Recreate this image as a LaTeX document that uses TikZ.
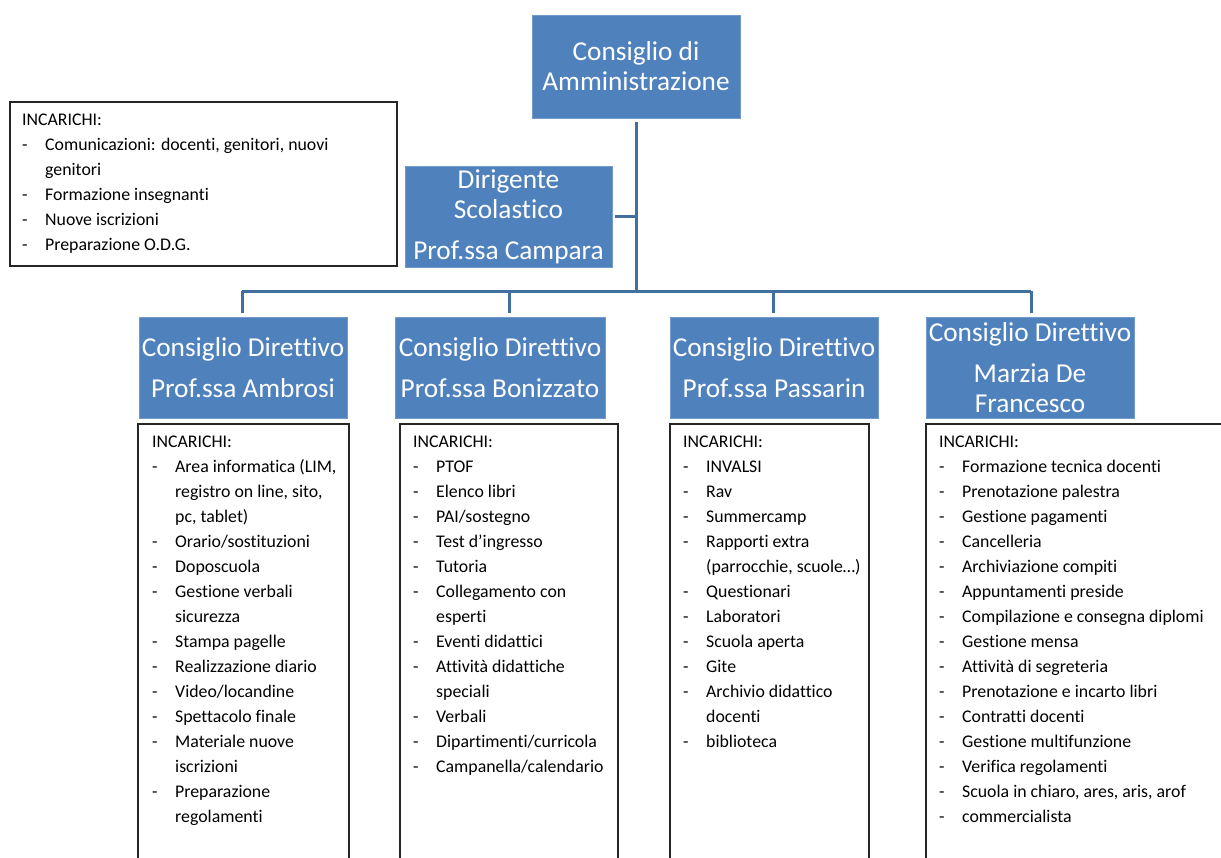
\documentclass[tikz,border=0pt]{standalone}
\usepackage{fontspec}
\setmainfont{Carlito}[Ligatures={NoCommon}]
\definecolor{boxblue}{HTML}{4F81BD}
\definecolor{lineblue}{HTML}{41709F}
\newcommand{\lid}[1]{\makebox[23pt][l]{-}#1\\}
\newcommand{\lic}[1]{\hspace*{23pt}#1\\}
\newcommand{\lilast}[1]{\makebox[23pt][l]{-}#1}
\tikzset{
  bluebox/.style={fill=boxblue, draw=boxblue!80!white, line width=0.6pt, text=white, align=center,
    font=\fontsize{27.3}{30}\selectfont, inner sep=0pt},
  conn/.style={draw=lineblue, line width=3pt},
  listtext/.style={anchor=base west, inner sep=0pt},
  listbox/.style={draw=black!85, line width=1.1pt}
}
\newcommand{\listfont}{\fontsize{17.8}{25.05}\selectfont}
\begin{document}
\begin{tikzpicture}[x=1pt,y=-1pt]
\useasboundingbox (0,0) rectangle (1221,857);
% blue boxes
\node[bluebox, minimum width=208pt, minimum height=103pt] (cda) at (636,66.5) {Consiglio di\\Amministrazione};
\node[bluebox, minimum width=207pt, minimum height=101pt] (dir) at (508.5,216.5) {Dirigente\\Scolastico\\[11pt]Prof.ssa Campara};
\node[bluebox, minimum width=208pt, minimum height=101pt] (b1) at (243,367.5) {Consiglio Direttivo\\[11pt]Prof.ssa Ambrosi};
\node[bluebox, minimum width=210pt, minimum height=101pt] (b2) at (500,367.5) {Consiglio Direttivo\\[11pt]Prof.ssa Bonizzato};
\node[bluebox, minimum width=208pt, minimum height=101pt] (b3) at (774,367.5) {Consiglio Direttivo\\[11pt]Prof.ssa Passarin};
\node[bluebox, minimum width=208pt, minimum height=101pt] (b4) at (1030,367.5) {Consiglio Direttivo\\[11pt]Marzia De\\Francesco};
% connectors
\coordinate (bus) at (636,291);
\coordinate (d1) at (242,291);
\coordinate (d2) at (509,291);
\coordinate (d3) at (773,291);
\coordinate (d4) at (1031,291);
\draw[conn, shorten <=4pt] (cda.south) -- (bus);
\draw[conn, shorten <=3pt] (dir.east) -- (dir.east -| bus);
\draw[conn] (d1) -- (d4);
\draw[conn, shorten >=4pt] (d1) -- (d1 |- b1.north);
\draw[conn, shorten >=4pt] (d2) -- (d2 |- b2.north);
\draw[conn, shorten >=4pt] (d3) -- (d3 |- b3.north);
\draw[conn, shorten >=4pt] (d4) -- (d4 |- b4.north);
% list boxes
\draw[listbox] (10,102) rectangle (397,266);
\draw[listbox] (138,858) -- (138,424) -- (349,424) -- (349,858);
\draw[listbox] (400,858) -- (400,424) -- (618,424) -- (618,858);
\draw[listbox] (670,858) -- (670,424) -- (869,424) -- (869,858);
\draw[listbox] (926,858) -- (926,424) -- (1222,424);
% list texts
\node[listtext] (t0) at (22,125) {\parbox[t]{380pt}{\listfont INCARICHI:\\
\lid{Comunicazioni: docenti, genitori, nuovi}
\lic{genitori}
\lid{Formazione insegnanti}
\lid{Nuove iscrizioni}
\lilast{Preparazione O.D.G.}}};
\node[listtext] (t1) at (152,447) {\parbox[t]{200pt}{\listfont INCARICHI:\\
\lid{Area informatica (LIM,}
\lic{registro on line, sito,}
\lic{pc, tablet)}
\lid{Orario/sostituzioni}
\lid{Doposcuola}
\lid{Gestione verbali}
\lic{sicurezza}
\lid{Stampa pagelle}
\lid{Realizzazione diario}
\lid{Video/locandine}
\lid{Spettacolo finale}
\lid{Materiale nuove}
\lic{iscrizioni}
\lid{Preparazione}
\hspace*{23pt}regolamenti}};
\node[listtext] (t2) at (413,447) {\parbox[t]{210pt}{\listfont INCARICHI:\\
\lid{PTOF}
\lid{Elenco libri}
\lid{PAI/sostegno}
\lid{Test d’ingresso}
\lid{Tutoria}
\lid{Collegamento con}
\lic{esperti}
\lid{Eventi didattici}
\lid{Attività didattiche}
\lic{speciali}
\lid{Verbali}
\lid{Dipartimenti/curricola}
\lilast{Campanella/calendario}}};
\node[listtext] (t3) at (683,447) {\parbox[t]{190pt}{\listfont INCARICHI:\\
\lid{INVALSI}
\lid{Rav}
\lid{Summercamp}
\lid{Rapporti extra}
\lic{(parrocchie, scuole…)}
\lid{Questionari}
\lid{Laboratori}
\lid{Scuola aperta}
\lid{Gite}
\lid{Archivio didattico}
\lic{docenti}
\lilast{biblioteca}}};
\node[listtext] (t4) at (939,447) {\parbox[t]{280pt}{\listfont INCARICHI:\\
\lid{Formazione tecnica docenti}
\lid{Prenotazione palestra}
\lid{Gestione pagamenti}
\lid{Cancelleria}
\lid{Archiviazione compiti}
\lid{Appuntamenti preside}
\lid{Compilazione e consegna diplomi}
\lid{Gestione mensa}
\lid{Attività di segreteria}
\lid{Prenotazione e incarto libri}
\lid{Contratti docenti}
\lid{Gestione multifunzione}
\lid{Verifica regolamenti}
\lid{Scuola in chiaro, ares, aris, arof}
\lilast{commercialista}}};
\end{tikzpicture}
\end{document}
